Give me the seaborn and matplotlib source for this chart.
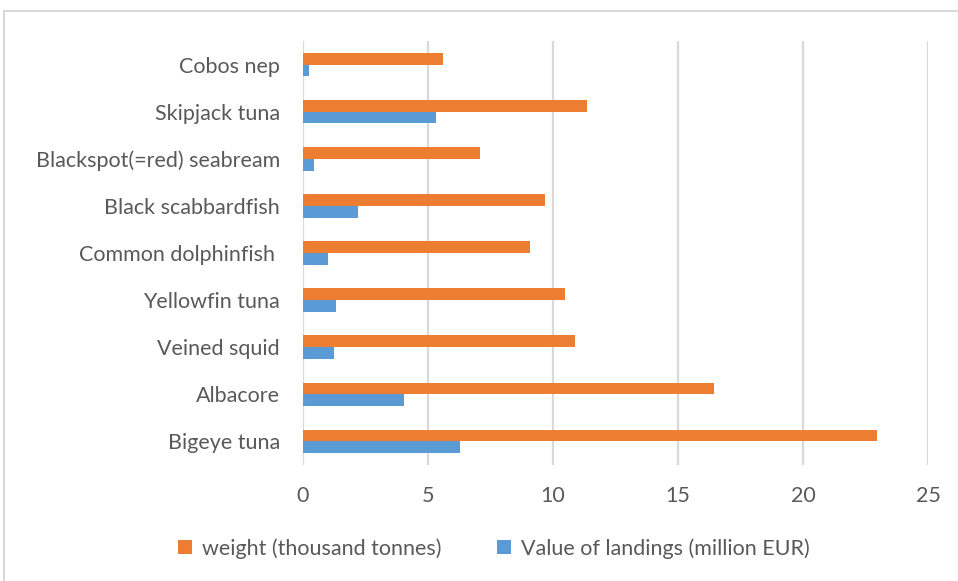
import matplotlib
matplotlib.use("Agg")
import matplotlib.pyplot as plt
from matplotlib.lines import Line2D
from matplotlib.patches import Patch
import pandas as pd
import seaborn as sns

species = [
    "Cobos nep",
    "Skipjack tuna",
    "Blackspot(=red) seabream",
    "Black scabbardfish",
    "Common dolphinfish ",
    "Yellowfin tuna",
    "Veined squid",
    "Albacore",
    "Bigeye tuna",
]
weight = [5.58, 11.36, 7.07, 9.68, 9.07, 10.47, 10.89, 16.42, 22.96]
value = [0.24, 5.31, 0.44, 2.20, 1.01, 1.30, 1.25, 4.02, 6.27]
series = ["weight (thousand tonnes)", "Value of landings (million EUR)"]
xticks = [0, 5, 10, 15, 20, 25]

df = pd.DataFrame({
    "species": species * 2,
    "series": [series[0]] * len(species) + [series[1]] * len(species),
    "amount": weight + value,
})

sns.set_theme(style="white")
plt.rcParams["font.family"] = ["Lato", "DejaVu Sans"]

text_color = "#595959"
grid_color = "#d9d9d9"
palette = {series[0]: "#ED7D31", series[1]: "#5B9BD5"}
fs = 15.5

fig = plt.figure(figsize=(9.58, 5.81), dpi=100)
ax = fig.add_axes([0.3163, 0.1997, 0.6524, 0.7297])

sns.barplot(
    data=df, y="species", x="amount", hue="series",
    order=species, hue_order=series, palette=palette,
    orient="h", width=0.5, gap=0, saturation=1,
    edgecolor="none", linewidth=0, ax=ax, legend=False,
)

ax.set_xlim(0, 25)
ax.set_xticks(xticks)
ax.set_xticklabels([str(t) for t in xticks])
ax.set_ylim(len(species) - 0.5, -0.5)
ax.set_xlabel("")
ax.set_ylabel("")
ax.grid(axis="x", color=grid_color, linewidth=1.6)
ax.grid(axis="y", visible=False)
ax.set_axisbelow(True)
for s in ax.spines.values():
    s.set_visible(False)
ax.tick_params(axis="both", length=0, labelsize=fs, colors=text_color)
ax.tick_params(axis="y", pad=16.5)
ax.tick_params(axis="x", pad=15)

handles = [Patch(facecolor=palette[s], edgecolor="none") for s in series]
fig.legend(
    handles, series, loc="center", bbox_to_anchor=(0.5157, 0.056),
    ncol=2, frameon=False, fontsize=fs, labelcolor=text_color,
    handlelength=0.65, handleheight=0.65, handletextpad=0.45,
    columnspacing=2.6,
)

# outer chart frame (top and left edges)
y_top = 1 - 11 / 581
x_left = 4 / 958
fig.add_artist(Line2D([x_left, 1.0], [y_top, y_top], transform=fig.transFigure,
                      color=grid_color, linewidth=1.5))
fig.add_artist(Line2D([x_left, x_left], [0.0, y_top], transform=fig.transFigure,
                      color=grid_color, linewidth=1.5))

fig.savefig("out.png", dpi=100, facecolor="white")
